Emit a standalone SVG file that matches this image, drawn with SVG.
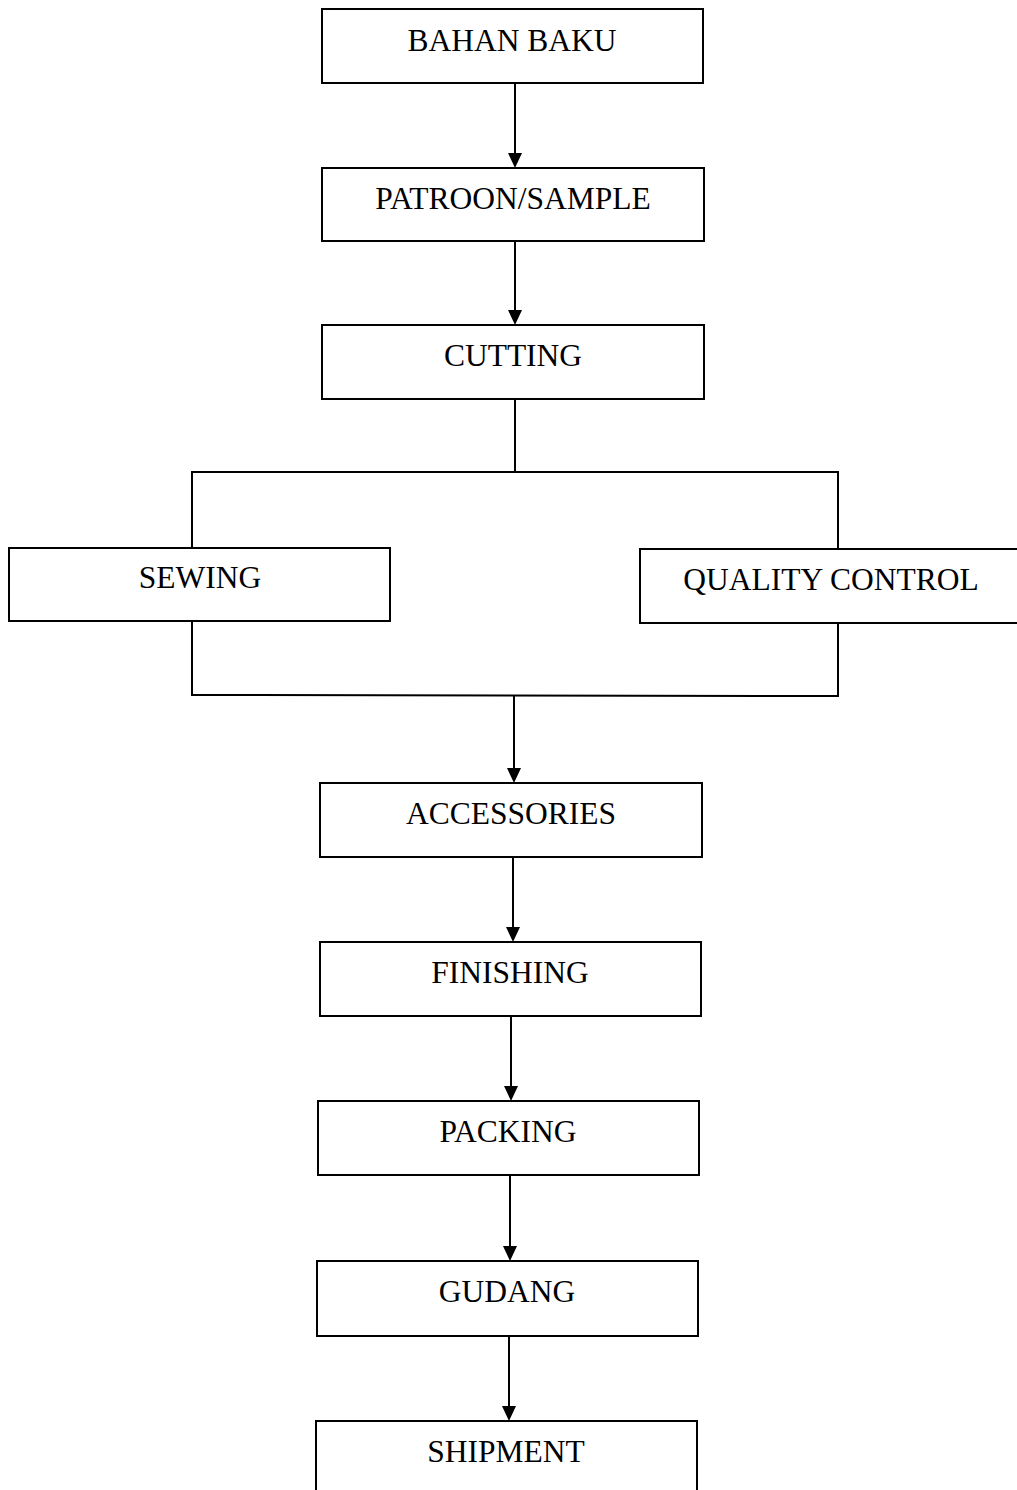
<svg xmlns="http://www.w3.org/2000/svg" width="1017" height="1490" viewBox="0 0 1017 1490">
<style>
.box{fill:#fff;stroke:#000;stroke-width:2}
.lbl{font-family:"Liberation Serif","Times New Roman",serif;font-size:31.5px;fill:#000;text-anchor:middle}
.con{fill:none;stroke:#000;stroke-width:2}
</style>
<rect width="1017" height="1490" fill="#fff"/>
<g id="connectors">
<line class="con" x1="515" y1="83" x2="515" y2="156"/>
<line class="con" x1="515" y1="241" x2="515" y2="313"/>
<line class="con" x1="515" y1="399" x2="515" y2="472"/>
<polyline class="con" points="192,548 192,472 838,472 838,549"/>
<polyline class="con" points="192,621 192,695 838,696 838,623"/>
<line class="con" x1="514" y1="695" x2="514" y2="771"/>
<line class="con" x1="513" y1="857" x2="513" y2="930"/>
<line class="con" x1="511" y1="1016" x2="511" y2="1089"/>
<line class="con" x1="510" y1="1175" x2="510" y2="1249"/>
<line class="con" x1="509" y1="1336" x2="509" y2="1409"/>
<g fill="#000">
<path d="M508,153 L522,153 L515,168 Z"/>
<path d="M508,310 L522,310 L515,325 Z"/>
<path d="M507,768 L521,768 L514,783 Z"/>
<path d="M506,927 L520,927 L513,942 Z"/>
<path d="M504,1086 L518,1086 L511,1101 Z"/>
<path d="M503,1246 L517,1246 L510,1261 Z"/>
<path d="M502,1406 L516,1406 L509,1421 Z"/>
</g>
</g>
<g id="bahan-baku"><rect class="box" x="322" y="9" width="381" height="74"/><text class="lbl" x="512" y="51">BAHAN BAKU</text></g>
<g id="patroon-sample"><rect class="box" x="322" y="168" width="382" height="73"/><text class="lbl" x="513" y="209">PATROON/SAMPLE</text></g>
<g id="cutting"><rect class="box" x="322" y="325" width="382" height="74"/><text class="lbl" x="513" y="366">CUTTING</text></g>
<g id="sewing"><rect class="box" x="9" y="548" width="381" height="73"/><text class="lbl" x="200" y="588">SEWING</text></g>
<g id="quality-control"><rect class="box" x="640" y="549" width="390" height="74"/><text class="lbl" x="831" y="590">QUALITY CONTROL</text></g>
<g id="accessories"><rect class="box" x="320" y="783" width="382" height="74"/><text class="lbl" x="511" y="824">ACCESSORIES</text></g>
<g id="finishing"><rect class="box" x="320" y="942" width="381" height="74"/><text class="lbl" x="510" y="983">FINISHING</text></g>
<g id="packing"><rect class="box" x="318" y="1101" width="381" height="74"/><text class="lbl" x="508" y="1142">PACKING</text></g>
<g id="gudang"><rect class="box" x="317" y="1261" width="381" height="75"/><text class="lbl" x="507" y="1302">GUDANG</text></g>
<g id="shipment"><rect class="box" x="316" y="1421" width="381" height="90"/><text class="lbl" x="506" y="1462">SHIPMENT</text></g>
</svg>
